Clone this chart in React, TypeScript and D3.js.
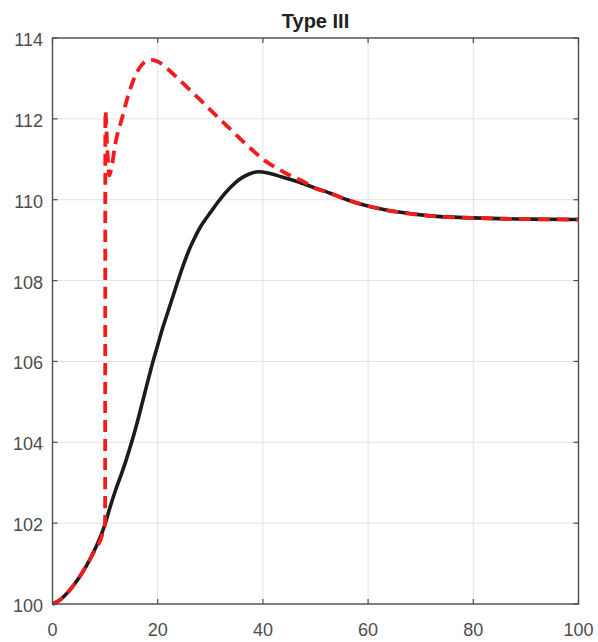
import React from "react";
import * as d3 from "d3";

const title = "Type III";
const xTicks = [0, 20, 40, 60, 80, 100];
const yTicks = [100, 102, 104, 106, 108, 110, 112, 114];

const blackX = [0, 1.4, 3, 5.2, 7.5, 10, 11, 12, 13, 14, 15, 16, 17, 18, 19, 20, 21, 22, 23, 24, 25, 26, 27, 28, 29, 30, 31.5, 33.8, 35.5, 37.3, 39.1, 41, 43.5, 46.5, 49.5, 52.8, 56, 59.2, 62.5, 65.5, 71.8, 80, 90, 100];
const blackY = [100, 100.1, 100.3, 100.68, 101.2, 101.98, 102.42, 102.82, 103.18, 103.56, 103.98, 104.44, 104.94, 105.45, 105.95, 106.4, 106.85, 107.25, 107.65, 108.05, 108.43, 108.77, 109.05, 109.3, 109.5, 109.68, 109.95, 110.3, 110.5, 110.63, 110.69, 110.66, 110.57, 110.45, 110.31, 110.16, 110.0, 109.87, 109.77, 109.70, 109.6, 109.55, 109.52, 109.51];

const redX = [0, 1.4, 3, 5.2, 7.5, 9.95, 10.0, 10.05, 10.4, 10.8, 11.3, 11.9, 13.2, 14.8, 16.5, 18.6, 20, 22, 24, 26, 28, 30, 32, 34, 36, 38, 40, 42, 44, 46, 48, 49.5, 52.8, 56, 59.2, 62.5, 65.5, 71.8, 80, 90, 100];
const redY = [100, 100.1, 100.3, 100.68, 101.2, 101.96, 102.05, 112.2, 111.3, 110.6, 110.85, 111.35, 112.01, 112.75, 113.25, 113.46, 113.42, 113.22, 112.98, 112.73, 112.48, 112.22, 111.97, 111.72, 111.47, 111.23, 111.0, 110.83, 110.68, 110.55, 110.43, 110.31, 110.16, 110.0, 109.87, 109.77, 109.70, 109.6, 109.55, 109.52, 109.51];

export default function App() {
  const W = 598, H = 642;
  const L = 52.5, R = 578.5, T = 38, B = 604;
  const x = d3.scaleLinear().domain([0, 100]).range([L, R]);
  const y = d3.scaleLinear().domain([100, 114]).range([B, T]);
  const line = d3.line<[number, number]>().x(d => x(d[0])).y(d => y(d[1])).curve(d3.curveMonotoneX);
  const black = line(blackX.map((v, i) => [v, blackY[i]] as [number, number])) || "";
  const red = line(redX.map((v, i) => [v, redY[i]] as [number, number])) || "";
  const axisColor = "#4d4d4d";
  const font = "'Liberation Sans', Arial, sans-serif";
  return (
    <div style={{ position: "absolute", left: 0, top: 0 }}>
      <svg width={W} height={H} style={{ display: "block", background: "#fff" }}>
        <defs>
          <clipPath id="plot">
            <rect x={L} y={T - 3} width={R - L} height={B - T + 6} />
          </clipPath>
        </defs>
        <rect x={L} y={T} width={R - L} height={B - T} fill="#fff" />
        {xTicks.map(t => (
          <line key={"gx" + t} x1={x(t)} x2={x(t)} y1={T} y2={B} stroke="#e2e2e2" strokeWidth={1} />
        ))}
        {yTicks.map(t => (
          <line key={"gy" + t} x1={L} x2={R} y1={y(t)} y2={y(t)} stroke="#e2e2e2" strokeWidth={1} />
        ))}
        <g clipPath="url(#plot)">
          <path d={black} fill="none" stroke="#1c1c1c" strokeWidth={3.6} strokeLinejoin="round" />
          <path d={red} fill="none" stroke="#f21c1c" strokeWidth={3.8} strokeDasharray="12,7" />
        </g>
        <rect x={L} y={T} width={R - L} height={B - T} fill="none" stroke={axisColor} strokeWidth={1.4} />
        {xTicks.map(t => (
          <g key={"tx" + t}>
            <line x1={x(t)} x2={x(t)} y1={B} y2={B - 5} stroke={axisColor} strokeWidth={1.2} />
            <line x1={x(t)} x2={x(t)} y1={T} y2={T + 5} stroke={axisColor} strokeWidth={1.2} />
            <text x={x(t)} y={636} textAnchor="middle" fontFamily={font} fontSize={18} fill={axisColor}>{t}</text>
          </g>
        ))}
        {yTicks.map(t => (
          <g key={"ty" + t}>
            <line x1={L} x2={L + 5} y1={y(t)} y2={y(t)} stroke={axisColor} strokeWidth={1.2} />
            <line x1={R} x2={R - 5} y1={y(t)} y2={y(t)} stroke={axisColor} strokeWidth={1.2} />
            <text x={43} y={y(t) + 8} textAnchor="end" fontFamily={font} fontSize={18} fill={axisColor}>{t}</text>
          </g>
        ))}
        <text x={(L + R) / 2} y={28} textAnchor="middle" fontFamily={font} fontSize={20} fontWeight="bold" fill="#222">{title}</text>
      </svg>
    </div>
  );
}
